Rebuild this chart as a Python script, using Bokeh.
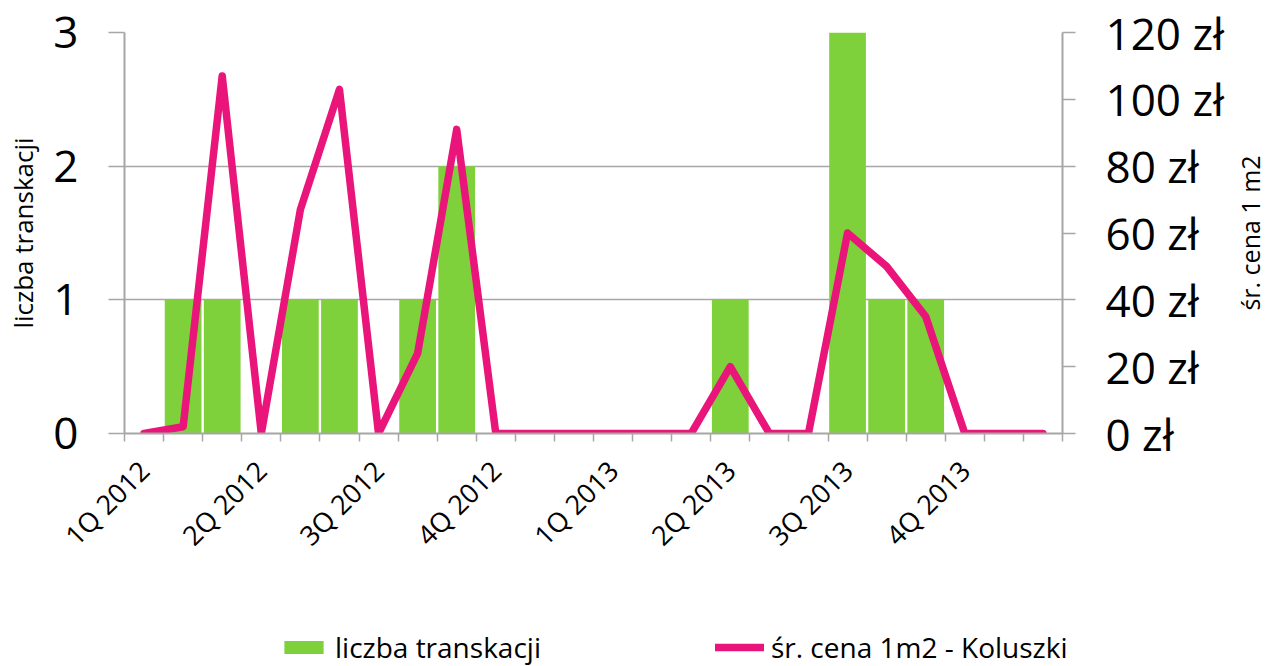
import math
from bokeh.plotting import figure
from bokeh.layouts import column, row
from bokeh.models import (Range1d, LinearAxis, FixedTicker, Legend, LegendItem,
                          PrintfTickFormatter, ColumnDataSource, Label)
from bokeh.embed import file_html
from bokeh.resources import INLINE

# ---- data ----
months = ["01.2012", "02.2012", "03.2012", "04.2012", "05.2012", "06.2012",
          "07.2012", "08.2012", "09.2012", "10.2012", "11.2012", "12.2012",
          "01.2013", "02.2013", "03.2013", "04.2013", "05.2013", "06.2013",
          "07.2013", "08.2013", "09.2013", "10.2013", "11.2013", "12.2013"]
quarter_labels = ["1Q 2012", "2Q 2012", "3Q 2012", "4Q 2012",
                  "1Q 2013", "2Q 2013", "3Q 2013", "4Q 2013"]
counts = [0, 1, 1, 0, 1, 1, 0, 1, 2, 0, 0, 0, 0, 0, 0, 1, 0, 0, 3, 1, 1, 0, 0, 0]
prices = [0, 2, 107, 0, 67, 103, 0, 24, 91, 0, 0, 0, 0, 0, 0, 20, 0, 0, 60, 50, 35, 0, 0, 0]
count_ticks = [0, 1, 2, 3]
price_ticks = [0, 20, 40, 60, 80, 100, 120]
series_names = ["liczba transkacji", "śr. cena 1m2 - Koluszki"]
right_title = "śr. cena 1 m2"

FONT = "Open Sans"
GREEN = "#7FD13B"
PINK = "#EA157A"
GRID = "#A6A6A6"
TXT = "#000000"

idx = list(range(len(months)))
src = ColumnDataSource(dict(x=idx, month=months, count=counts, price=prices))

W = 1265
W_TITLE = 38
W_MAIN = W - W_TITLE
H_LEG = 40
H_MAIN = 666 - H_LEG
FRAME_L, FRAME_R, FRAME_T, FRAME_B = 124, 1062, 32, 433

p = figure(width=W_MAIN, height=H_MAIN, output_backend="svg", toolbar_location=None,
           x_range=Range1d(-0.5, len(months) - 0.5),
           y_range=Range1d(0, max(count_ticks)),
           min_border_left=FRAME_L, min_border_right=W_MAIN - FRAME_R,
           min_border_top=FRAME_T, min_border_bottom=H_MAIN - FRAME_B)
p.outline_line_color = None
p.extra_y_ranges = {"price": Range1d(0, max(price_ticks))}

bar_style = dict(fill_color=GREEN, line_color=None)
line_style = dict(line_color=PINK, line_width=7.5, line_join="round", line_cap="round")

p.vbar(x="x", top="count", width=0.94, source=src, **bar_style)
p.line(x="x", y="price", source=src, y_range_name="price", **line_style)

# x axis
xa = p.xaxis[0]
q_pos = idx[::3]
xa.ticker = FixedTicker(ticks=q_pos, minor_ticks=[i - 0.5 for i in range(len(months) + 1)])
xa.major_label_overrides = {q: lab for q, lab in zip(q_pos, quarter_labels)}
xa.major_label_orientation = math.pi / 4
xa.major_tick_out = 0
xa.major_tick_in = 0
xa.minor_tick_out = 8
xa.minor_tick_in = 0
xa.minor_tick_line_color = GRID
xa.minor_tick_line_width = 1.5
xa.axis_line_color = GRID
xa.axis_line_width = 2
xa.major_label_text_font = FONT
xa.major_label_text_font_size = "27px"
xa.major_label_text_color = TXT
xa.major_label_standoff = 24

# left axis
ya = p.yaxis[0]
ya.ticker = FixedTicker(ticks=count_ticks)
ya.axis_label = series_names[0]
ya.axis_label_text_font = FONT
ya.axis_label_text_font_size = "26px"
ya.axis_label_text_font_style = "normal"
ya.axis_label_text_color = TXT
ya.axis_label_standoff = 9
ya.major_label_text_font = FONT
ya.major_label_text_font_size = "44px"
ya.major_label_text_color = TXT
ya.major_label_standoff = 30
ya.major_tick_out = 16
ya.major_tick_in = 0
ya.minor_tick_line_color = None
ya.major_tick_line_color = GRID
ya.major_tick_line_width = 1.5
ya.axis_line_color = GRID
ya.axis_line_width = 2

# right axis
ra = LinearAxis(y_range_name="price", ticker=FixedTicker(ticks=price_ticks),
                formatter=PrintfTickFormatter(format="%d zł"))
ra.major_label_text_font = FONT
ra.major_label_text_font_size = "44px"
ra.major_label_text_color = TXT
ra.major_label_standoff = 30
ra.major_tick_out = 13
ra.major_tick_in = 0
ra.minor_tick_line_color = None
ra.major_tick_line_color = GRID
ra.major_tick_line_width = 1.5
ra.axis_line_color = GRID
ra.axis_line_width = 2
p.add_layout(ra, "right")

p.xgrid.visible = False
p.ygrid.ticker = FixedTicker(ticks=count_ticks)
p.ygrid.grid_line_color = GRID
p.ygrid.grid_line_width = 1.5

# narrow strip at the right holding the right-axis title (reads bottom-to-top)
pt = figure(width=W_TITLE, height=H_MAIN, output_backend="svg", toolbar_location=None,
            x_range=Range1d(0, 1), y_range=Range1d(0, 1),
            min_border_left=0, min_border_right=0,
            min_border_top=FRAME_T, min_border_bottom=H_MAIN - FRAME_B,
            outline_line_color=None)
pt.axis.visible = False
pt.grid.visible = False
pt.add_layout(Label(x=0.6, y=0.5, text=right_title, angle=math.pi / 2,
                    text_align="center", text_baseline="middle",
                    text_font=FONT, text_font_size="25px", text_color=TXT))

# legend strip below the chart (proxy renderers share the data, hidden)
pl = figure(width=W, height=H_LEG, output_backend="svg", toolbar_location=None,
            x_range=Range1d(0, 1), y_range=Range1d(0, 1),
            min_border=0, outline_line_color=None)
pl.axis.visible = False
pl.grid.visible = False
lb = pl.vbar(x="x", top="count", width=0.94, source=src, visible=False, **bar_style)
ll = pl.line(x="x", y="price", source=src, visible=False, **line_style)
legend = Legend(items=[LegendItem(label=series_names[0], renderers=[lb]),
                       LegendItem(label=series_names[1], renderers=[ll])],
                orientation="horizontal", location=(279, 0),
                glyph_width=49, glyph_height=16, label_standoff=7, spacing=174,
                padding=0, margin=0, border_line_color=None,
                background_fill_alpha=0, label_text_color=TXT,
                label_text_font=FONT, label_text_font_size="28px")
pl.add_layout(legend, "center")

layout = column(row(p, pt, spacing=0), pl, spacing=0)
open("out.html", "w").write(file_html(layout, INLINE))
